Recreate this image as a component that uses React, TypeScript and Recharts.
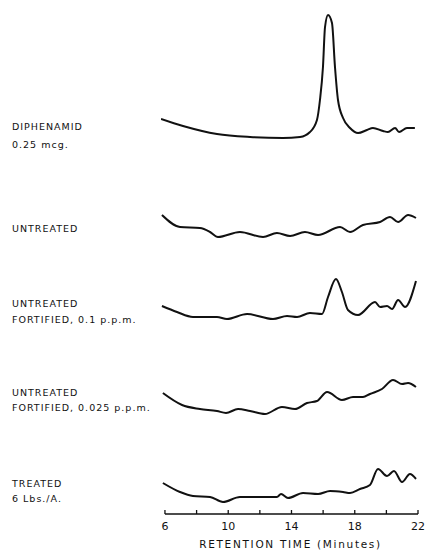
import React from 'react';
import { LineChart, Line, XAxis, YAxis, ReferenceLine } from 'recharts';

// retention time (minutes) and detector response (relative units above baseline axis)
const diphenamidT = [5.75, 7.14, 9.29, 11.38, 13.46, 14.54, 15.17, 15.61, 15.8, 15.99, 16.12, 16.31, 16.56, 16.75, 16.94, 17.26, 17.7, 18.21, 18.77, 19.15, 19.79, 20.1, 20.55, 20.8, 21.3, 21.8];
const diphenamidV = [395, 388, 380, 377, 376, 377, 382, 394, 414, 447, 487, 499, 491, 447, 414, 396, 386, 381, 384, 386, 383, 382, 386, 382, 386, 386];

const untreatedT = [5.81, 6.95, 8.21, 8.85, 9.35, 10.74, 12.2, 13.08, 13.91, 14.85, 15.68, 17.07, 17.7, 18.52, 19.6, 20.23, 20.74, 21.37, 21.87];
const untreatedV = [299, 287, 286, 282, 277, 282, 277, 281, 278, 282, 279, 287, 282, 289, 292, 297, 292, 299, 296];

const fort01T = [5.81, 6.76, 7.77, 9.29, 9.92, 11.19, 12.83, 13.72, 14.35, 15.17, 15.93, 16.31, 16.81, 17.19, 17.57, 18.21, 19.28, 19.6, 20.04, 20.36, 20.74, 21.18, 21.87];
const fort01V = [208, 202, 197, 197, 195, 200, 195, 198, 197, 201, 200, 217, 235, 222, 204, 199, 212, 207, 208, 205, 214, 207, 233];

const fort0025T = [5.87, 7.08, 8.21, 9.29, 9.86, 10.62, 11.38, 12.32, 13.4, 14.22, 14.98, 15.61, 16.25, 17.19, 17.89, 18.52, 18.96, 19.72, 20.42, 20.99, 21.37, 21.87];
const fort0025V = [121, 109, 105, 103, 101, 105, 103, 100, 107, 105, 111, 113, 122, 114, 117, 117, 120, 125, 134, 130, 131, 127];

const treatedT = [5.87, 6.95, 7.77, 8.85, 9.67, 10.74, 13.08, 13.34, 13.78, 14.73, 15.68, 16.44, 17.26, 17.7, 18.33, 18.96, 19.47, 20.04, 20.48, 20.99, 21.49, 21.87];
const treatedV = [31, 22, 18, 17, 12, 17, 17, 20, 16, 21, 20, 23, 22, 21, 25, 29, 45, 38, 43, 32, 40, 35];

const xTicks = [6, 8, 10, 12, 14, 16, 18, 20, 22];
const labeledTicks = [6, 10, 14, 18, 22];

const traceLabels = [
  ['DIPHENAMID', '0.25 mcg.'],
  ['UNTREATED'],
  ['UNTREATED', 'FORTIFIED, 0.1 p.p.m.'],
  ['UNTREATED', 'FORTIFIED, 0.025 p.p.m.'],
  ['TREATED', '6 Lbs./A.'],
];

const toRows = (t: number[], v: number[]) => t.map((x, i) => ({ t: x, v: v[i] }));

const series = [
  toRows(diphenamidT, diphenamidV),
  toRows(untreatedT, untreatedV),
  toRows(fort01T, fort01V),
  toRows(fort0025T, fort0025V),
  toRows(treatedT, treatedV),
];

// vertical centre of each label line, in page pixels
const labelTops = [[127, 145], [229], [304, 320], [393, 408], [484, 499]];

const FONT = '"DejaVu Sans", sans-serif';
const INK = '#111';

const AxisTick = (props: any) => {
  const { x, y, payload } = props;
  const show = labeledTicks.includes(payload.value);
  return (
    <g>
      <line x1={x} y1={y} x2={x} y2={y - 4} stroke={INK} strokeWidth={1.3} />
      {show && (
        <text x={x} y={y + 16} textAnchor="middle" fontSize={11} fontFamily={FONT} fill={INK}>
          {payload.value}
        </text>
      )}
    </g>
  );
};

export default function App() {
  return (
    <div style={{ position: 'absolute', left: 0, top: 0, width: 426, height: 551, background: '#fff' }}>
      <LineChart width={426} height={551} margin={{ top: 0, right: 6, bottom: 0, left: 161 }}>
        <XAxis
          type="number"
          dataKey="t"
          domain={[5.75, 22.125]}
          allowDataOverflow
          ticks={xTicks}
          axisLine={false}
          tickLine={false}
          tickSize={0}
          tickMargin={0}
          height={37}
          tick={<AxisTick />}
          label={{
            value: 'RETENTION TIME (Minutes)',
            position: 'insideBottom',
            offset: 3,
            fontSize: 10.5,
            fontFamily: FONT,
            fill: INK,
            letterSpacing: 1.7,
          }}
        />
        <YAxis hide type="number" domain={[0, 514]} />
        <ReferenceLine
          segment={[{ x: 6, y: 0 }, { x: 22, y: 0 }]}
          stroke={INK}
          strokeWidth={1.5}
        />
        {series.map((d, i) => (
          <Line
            key={i}
            data={d}
            dataKey="v"
            type="monotone"
            stroke={INK}
            strokeWidth={2}
            dot={false}
            isAnimationActive={false}
          />
        ))}
      </LineChart>
      {traceLabels.map((lines, i) =>
        lines.map((txt, j) => (
          <div
            key={`${i}-${j}`}
            style={{
              position: 'absolute',
              left: 12,
              top: labelTops[i][j] - 6,
              height: 12,
              lineHeight: '12px',
              fontFamily: FONT,
              fontSize: 9.5,
              letterSpacing: 1.0,
              color: INK,
              whiteSpace: 'nowrap',
            }}
          >
            {txt}
          </div>
        ))
      )}
    </div>
  );
}
